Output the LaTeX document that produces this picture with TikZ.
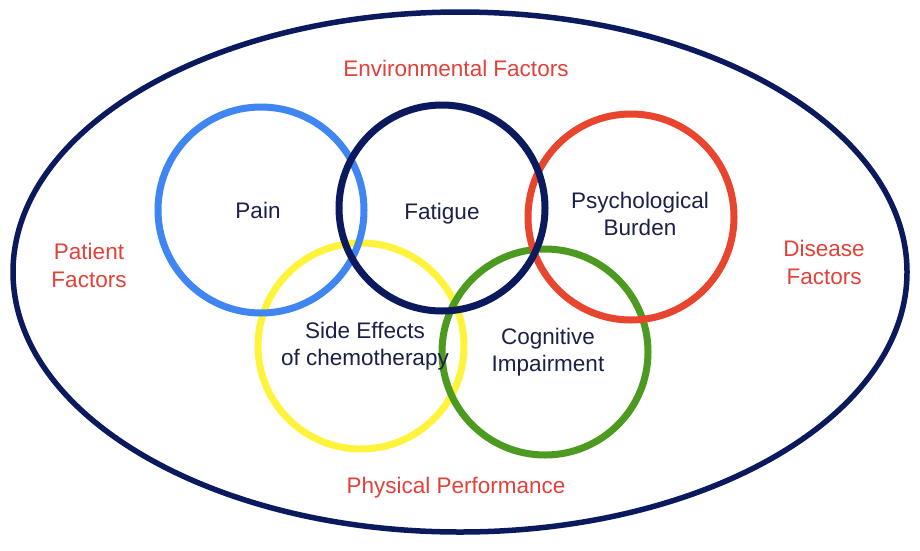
\documentclass[tikz,border=0pt]{standalone}
\usepackage{fontspec}
\setmainfont{Liberation Sans}

\definecolor{navy}{HTML}{0B1A5E}
\definecolor{ringblue}{HTML}{3F86F2}
\definecolor{ringred}{HTML}{E8452F}
\definecolor{ringyellow}{HTML}{FFF33C}
\definecolor{ringgreen}{HTML}{4C9A1F}
\definecolor{factorred}{HTML}{E2413A}
\definecolor{textnavy}{HTML}{1B2048}

\tikzset{
    ring/.style={circle, draw=#1, line width=7pt, minimum size=206pt, inner sep=0pt},
    label/.style={text=textnavy, align=center, font=\fontsize{22.5}{27}\selectfont},
    factor/.style={text=factorred, align=center, font=\fontsize{22.5}{28}\selectfont}
}

\begin{document}
\begin{tikzpicture}[x=1pt,y=-1pt]
        \useasboundingbox (0,0) rectangle (920,550);
        \fill[white] (0,0) rectangle (920,550);

        \draw[navy, line width=5.5pt] (460,272) ellipse (447 and 260);

        \node[ring=ringyellow] (side) at (361,346) {};
        \node[ring=ringgreen] (cognitive) at (545,352) {};
        \node[ring=ringred] (psych) at (631,217) {};
        \node[ring=ringblue] (pain) at (261,210) {};
        \node[ring=navy] (fatigue) at (442,208) {};

        \node[label] (painlabel) at ([shift={(-3,0)}]pain.center) {Pain};
        \node[label] (fatiguelabel) at ([shift={(0,6)}]fatigue.center) {Fatigue};
        \node[label] (psychlabel) at ([shift={(9,-3)}]psych.center) {Psychological\\Burden};
        \node[label] (sidelabel) at ([shift={(4,0)}]side.center) {Side Effects\\of chemotherapy};
        \node[label] (cognitivelabel) at ([shift={(3,0)}]cognitive.center) {Cognitive\\Impairment};

        \node[factor] (env) at (456,68) {Environmental Factors};
        \node[factor] (patient) at (89,265) {Patient\\Factors};
        \node[factor] (disease) at (824,262) {Disease\\Factors};
        \node[factor] (physical) at (456,488) {Physical Performance};
    \end{tikzpicture}
\end{document}
